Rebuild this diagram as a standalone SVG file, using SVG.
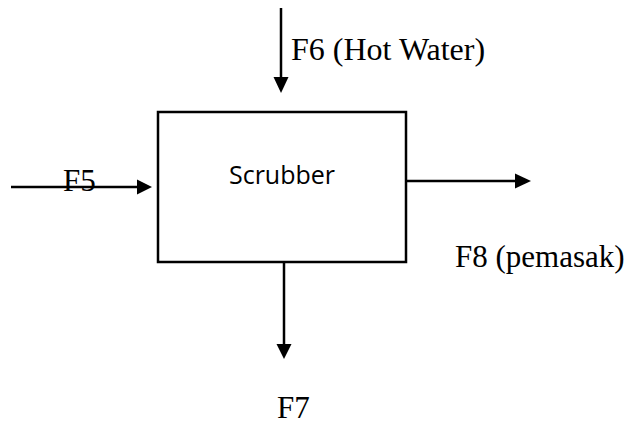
<svg xmlns="http://www.w3.org/2000/svg" width="630" height="425" viewBox="0 0 630 425">
<style>
.lbl{font-family:"Liberation Serif","Times New Roman",serif;font-size:31px;fill:#000}
.node{font-family:"Open Sans","Liberation Sans",sans-serif;font-size:25px;fill:#000}
.box{fill:#fff;stroke:#000;stroke-width:2.5}
.conn line{stroke:#000;stroke-width:2.5}
.conn polygon{fill:#000}
</style>
<rect width="630" height="425" fill="#fff"/>
<g id="scrubber">
<rect class="box" x="158" y="112" width="248" height="150"/>
<text class="node" x="282" y="184" text-anchor="middle">Scrubber</text>
</g>
<g id="labels">
<text id="f5" class="lbl" x="63" y="191">F5</text>
<text id="f6" class="lbl" x="291" y="60" style="font-size:32px">F6 (Hot Water)</text>
<text id="f8" class="lbl" x="455" y="267">F8 (pemasak)</text>
<text id="f7" class="lbl" x="277" y="418">F7</text>
</g>
<g class="conn" id="connectors">
<line x1="11" y1="187" x2="140" y2="187"/>
<polygon points="137,179.5 152,187 137,194.5"/>
<line x1="281" y1="8" x2="281" y2="80"/>
<polygon points="273.5,77 288.5,77 281,93"/>
<line x1="406" y1="181" x2="518" y2="181"/>
<polygon points="515,173.5 531,181 515,188.5"/>
<line x1="284" y1="262" x2="284" y2="347"/>
<polygon points="276.5,344 291.5,344 284,359"/>
</g>
</svg>
